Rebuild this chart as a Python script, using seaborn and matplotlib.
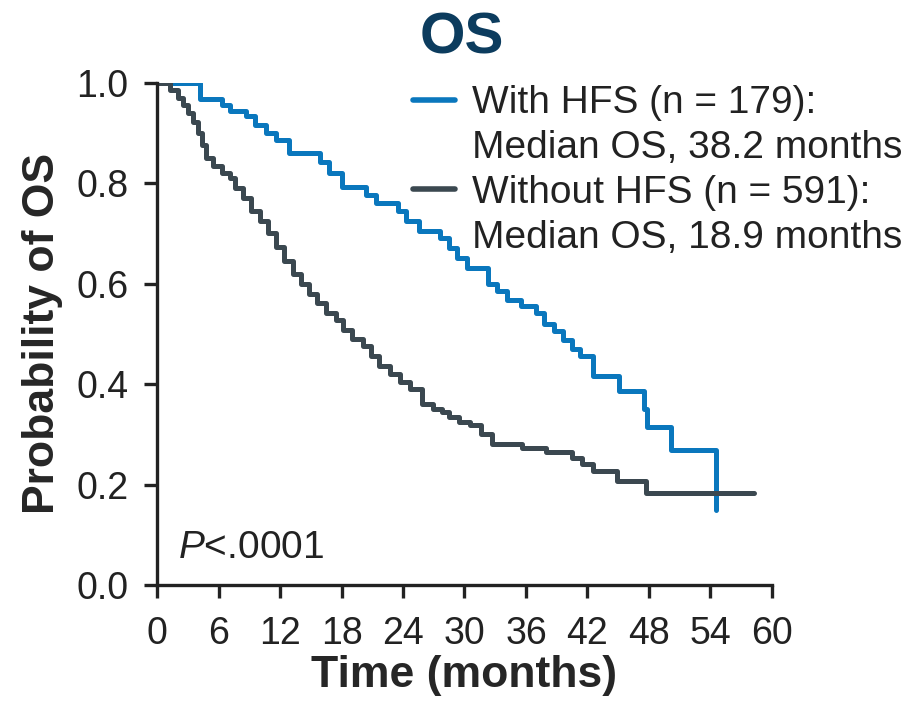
import numpy as np
import pandas as pd
import seaborn as sns
import matplotlib
matplotlib.use("Agg")
import matplotlib.pyplot as plt
from matplotlib.lines import Line2D

## Kaplan-Meier steps (months, survival)
hfs_time = [0, 4.2, 6.3, 7.1, 8.7, 9.6, 10.6, 11.6, 12.9, 15.9, 16.8, 18.0, 20.4, 21.4,
            23.5, 24.3, 25.6, 27.6, 28.5, 29.3, 30.2, 32.3, 33.2, 34.1, 35.5, 37.0, 37.8,
            38.7, 39.6, 40.5, 41.3, 42.5, 45.1, 47.5, 47.8, 50.1, 54.5]
hfs_surv = [1.0, 0.967, 0.955, 0.943, 0.933, 0.915, 0.90, 0.886, 0.859, 0.843, 0.82, 0.793,
            0.776, 0.760, 0.745, 0.725, 0.705, 0.69, 0.67, 0.65, 0.632, 0.60, 0.585, 0.567,
            0.555, 0.541, 0.52, 0.505, 0.488, 0.47, 0.455, 0.416, 0.387, 0.35, 0.315, 0.268, 0.15]

nohfs_time = [0, 1.3, 2.0, 2.5, 3.0, 3.5, 4.0, 4.4, 4.8, 5.5, 6.3, 7.1, 7.6, 8.4, 9.2, 10.0,
              10.8, 11.6, 12.4, 13.3, 14.0, 14.8, 15.6, 16.5, 17.5, 18.1, 19.0, 20.1, 20.9,
              21.7, 22.7, 23.7, 24.7, 25.9, 26.9, 27.8, 28.5, 29.5, 30.5, 31.6, 32.7, 35.6,
              38.0, 40.5, 41.5, 42.5, 44.9, 47.7, 58.2]
nohfs_surv = [1.0, 0.985, 0.97, 0.955, 0.94, 0.921, 0.90, 0.875, 0.85, 0.835, 0.82, 0.81,
              0.79, 0.77, 0.745, 0.724, 0.70, 0.672, 0.645, 0.62, 0.60, 0.58, 0.561, 0.541,
              0.528, 0.508, 0.49, 0.475, 0.455, 0.436, 0.42, 0.404, 0.39, 0.36, 0.35, 0.344,
              0.335, 0.325, 0.318, 0.30, 0.28, 0.272, 0.265, 0.252, 0.24, 0.226, 0.207, 0.183, 0.183]

groups = ["With HFS", "Without HFS"]
legend_lines = [["With HFS (n = 179):", "Median OS, 38.2 months"],
                ["Without HFS (n = 591):", "Median OS, 18.9 months"]]
colors = ["#0a77bd", "#3b4850"]

df = pd.concat([
    pd.DataFrame({"time": hfs_time, "surv": hfs_surv, "group": groups[0]}),
    pd.DataFrame({"time": nohfs_time, "surv": nohfs_surv, "group": groups[1]}),
])

sns.set_style("ticks")
plt.rcParams["font.family"] = ["Liberation Sans", "DejaVu Sans"]
plt.rcParams["mathtext.fontset"] = "custom"
plt.rcParams["mathtext.rm"] = "Liberation Sans"
plt.rcParams["mathtext.it"] = "Liberation Sans:italic"

fig = plt.figure(figsize=(9.23, 7.07), dpi=100)
ax = fig.add_axes([0.1701, 0.1726, 0.6663, 0.7105])

sns.lineplot(data=df, x="time", y="surv", hue="group", palette=colors,
             drawstyle="steps-post", linewidth=3.6, estimator=None, legend=False, ax=ax)

ax.set_xlim(0, 60)
ax.set_ylim(0, 1.0)
ax.set_xticks(np.arange(0, 61, 6))
ax.set_yticks(np.arange(0, 1.01, 0.2))
ax.set_yticklabels([f"{v:.1f}" for v in np.arange(0, 1.01, 0.2)])
ax.tick_params(labelsize=27, width=2.4, length=9.5, color="#222222", labelcolor="#222222")
ax.tick_params(axis="x", pad=13)
ax.tick_params(axis="y", pad=11)
sns.despine(ax=ax)
for s in ["left", "bottom"]:
    ax.spines[s].set_linewidth(2.4)
    ax.spines[s].set_color("#222222")

ax.set_xlabel("Time (months)", fontsize=32, fontweight="bold", labelpad=2)
ax.set_ylabel("Probability of OS", fontsize=32, fontweight="bold", labelpad=10)
fig.text(0.5, 0.945, "OS", fontsize=42, fontweight="bold", color="#0c3c5e",
         ha="center", va="center")

ax.text(2, 0.074, r"$P$<.0001", fontsize=28, color="#222222", va="center")

# legend: handle on the first line of each two-line label
handles, labels = [], []
for c, lines in zip(colors, legend_lines):
    handles.append(Line2D([], [], color=c, linewidth=4))
    labels.append(lines[0])
    handles.append(Line2D([], [], color="none"))
    labels.append(lines[1])
leg = ax.legend(handles, labels, loc="upper left", bbox_to_anchor=(0.416, 0.995),
                frameon=False, fontsize=28, handlelength=1.08, handletextpad=0.43,
                labelspacing=0.23, borderpad=0, borderaxespad=0)
for t in leg.get_texts():
    t.set_color("#222222")

fig.savefig("out.png", dpi=100)
